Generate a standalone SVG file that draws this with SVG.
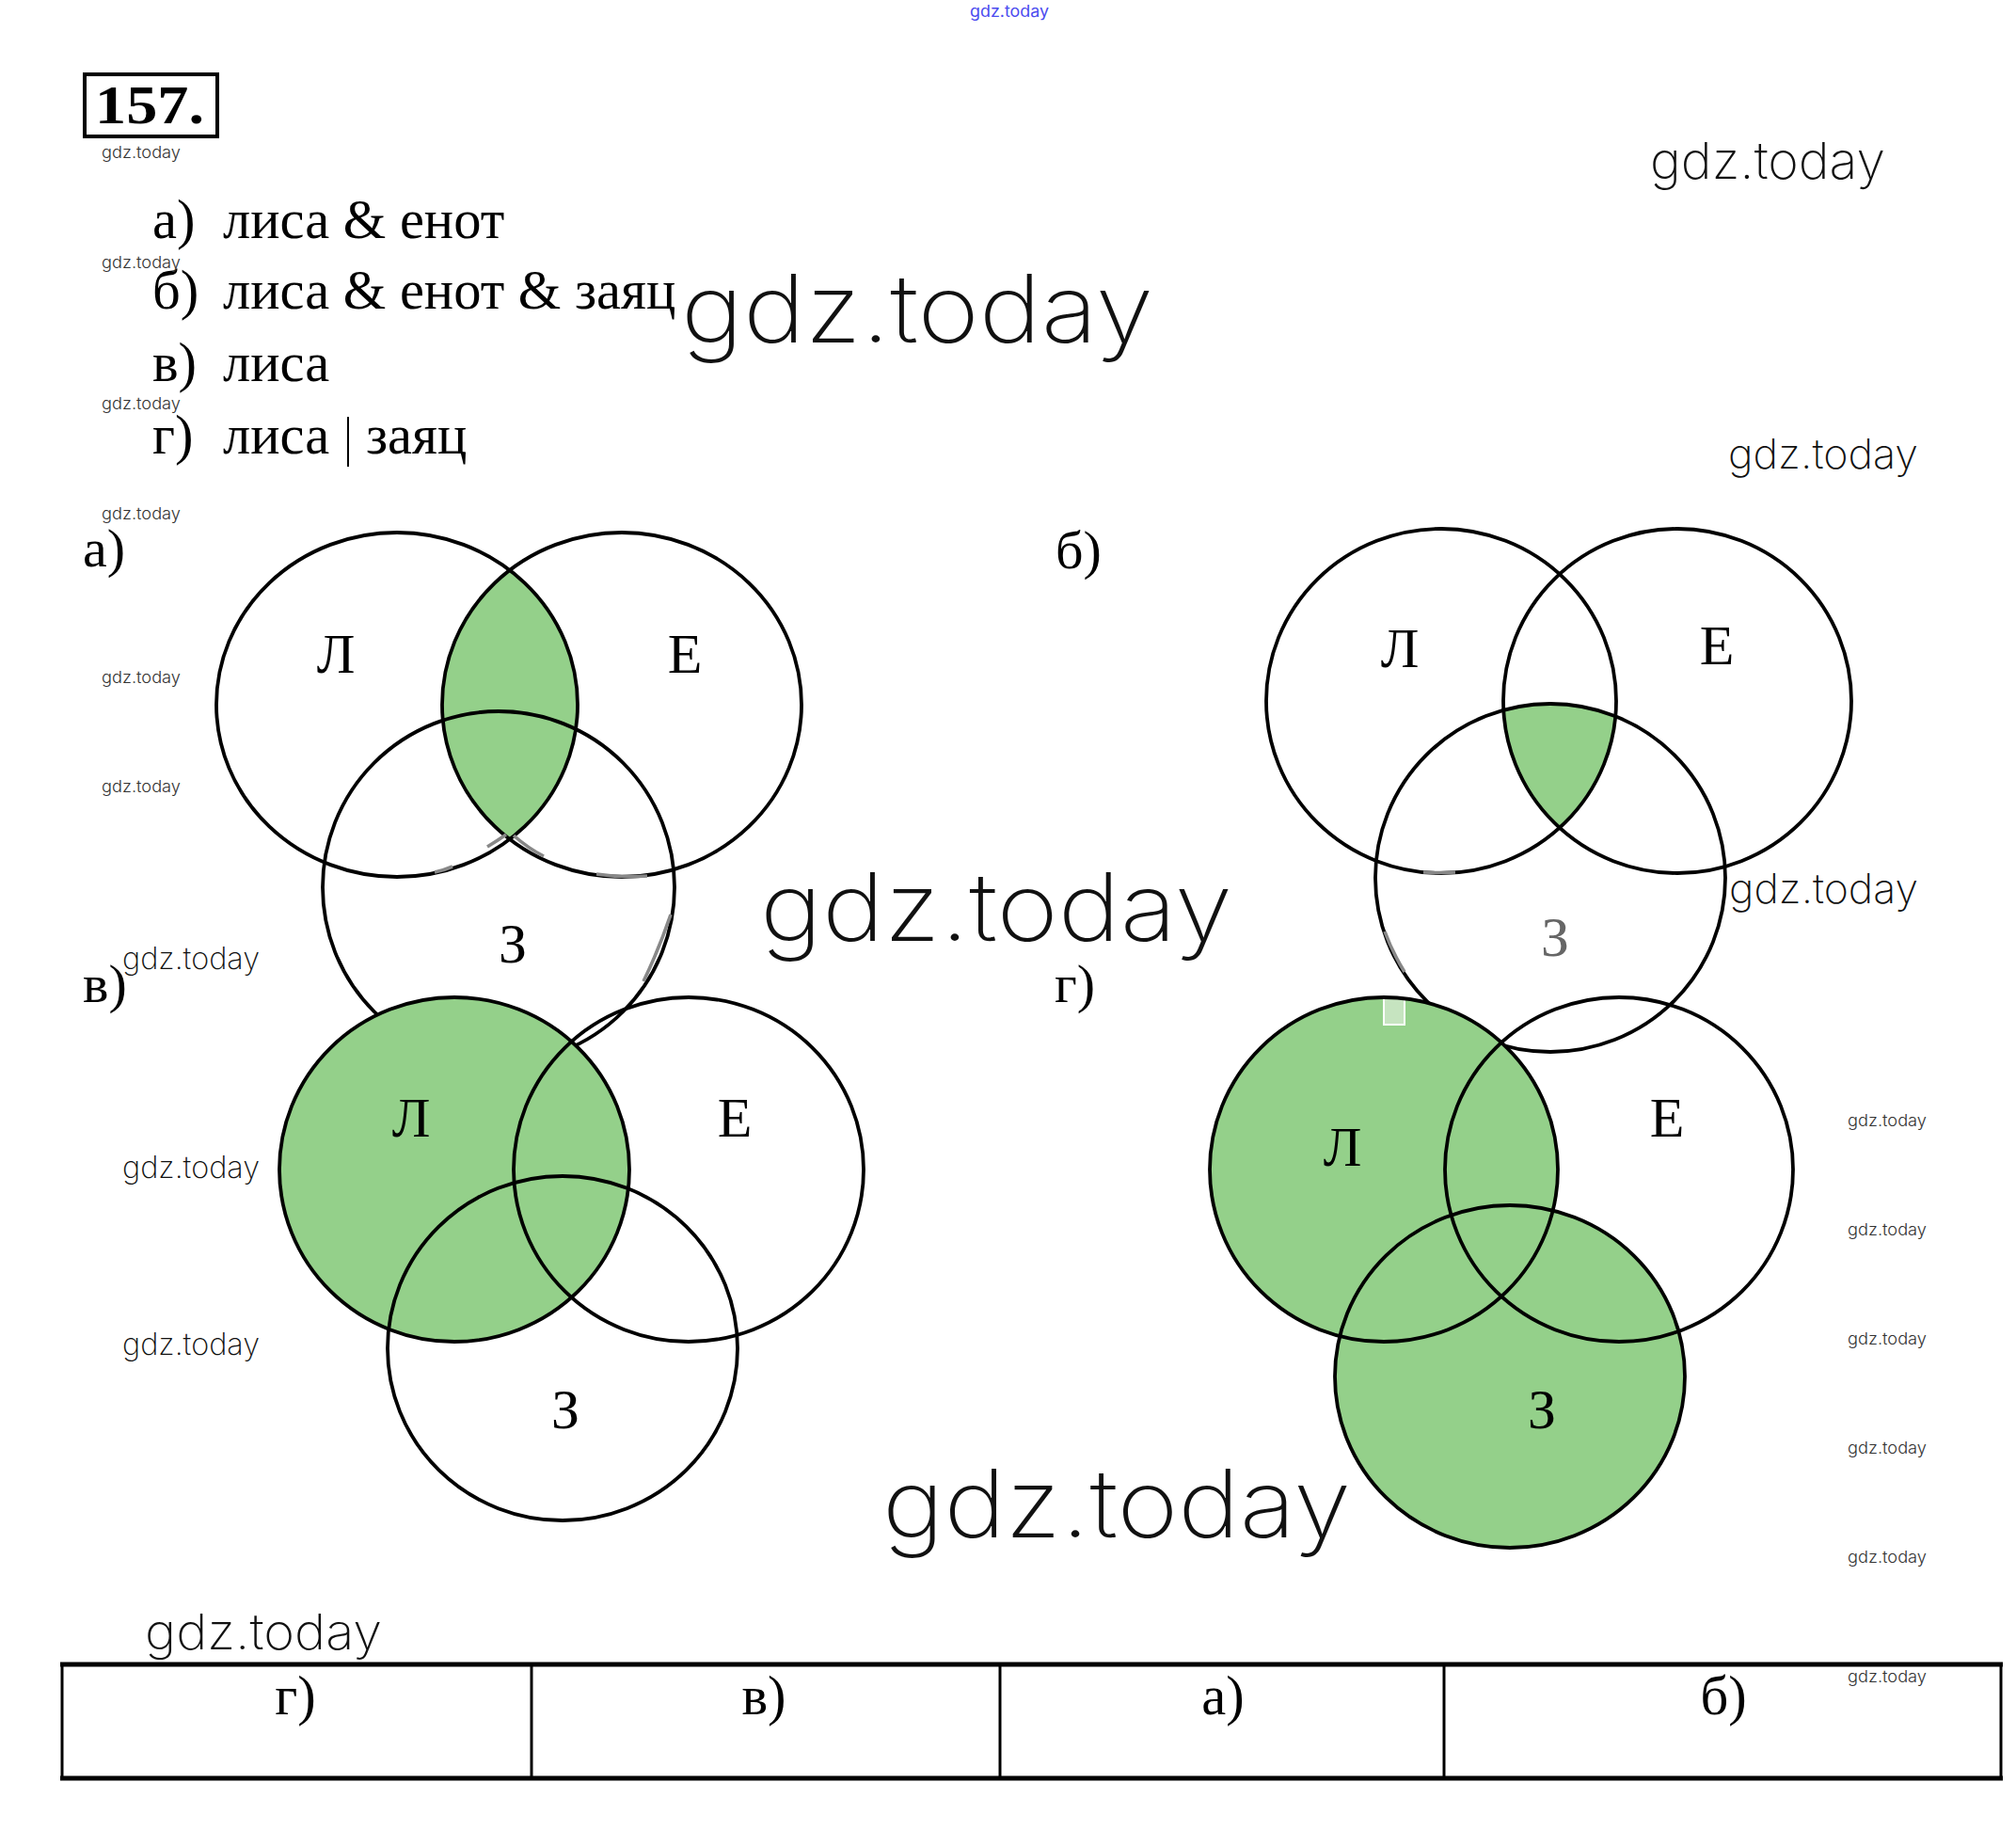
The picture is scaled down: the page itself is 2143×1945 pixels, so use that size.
<svg xmlns="http://www.w3.org/2000/svg" width="2143" height="1945" viewBox="0 0 2143 1945">
<style>
.t{font-family:"Liberation Serif","Times New Roman",serif;fill:#000}
.q{font-size:58.5px}
.lab{font-size:60px;text-anchor:middle}
.pl{font-size:58px}
.c{fill:none;stroke:#000;stroke-width:3.8}
.g{fill:#94d08a;stroke:none}
.w{font-family:"Inter","Lato","DejaVu Sans",sans-serif;font-weight:200;fill:#111}
.ws{font-family:"Inter","Lato","DejaVu Sans",sans-serif;font-weight:300;fill:#333;font-size:17px}
.art{fill:none;stroke:#888;stroke-width:3.6}
</style>
<defs>
<clipPath id="aE"><ellipse cx="661" cy="749" rx="191" ry="183"/></clipPath>
<clipPath id="bL"><ellipse cx="1532" cy="745" rx="186" ry="183"/></clipPath>
<clipPath id="bE"><ellipse cx="1783" cy="745" rx="185" ry="183"/></clipPath>
</defs>
<rect width="2143" height="1945" fill="#fff"/>

<g id="title">
<rect x="90" y="79" width="141" height="66" fill="none" stroke="#000" stroke-width="4"/>
<text class="t" x="101" y="131" font-size="58" font-weight="bold" textLength="116" lengthAdjust="spacingAndGlyphs">157.</text>
</g>

<g id="statements">
<text class="t q" y="253"><tspan x="162">а)</tspan><tspan x="237">лиса &amp; енот</tspan></text>
<text class="t q" y="328"><tspan x="162">б)</tspan><tspan x="237">лиса &amp; енот &amp; заяц</tspan></text>
<text class="t q" y="405"><tspan x="162">в)</tspan><tspan x="237">лиса</tspan></text>
<text class="t q" y="482"><tspan x="162">г)</tspan><tspan x="237">лиса</tspan><tspan x="389">заяц</tspan></text>
<line x1="370" y1="443" x2="370" y2="496" stroke="#000" stroke-width="2"/>
</g>

<g id="diagram-a">
<ellipse class="g" cx="422" cy="749" rx="192" ry="183" clip-path="url(#aE)"/>
<ellipse id="a-L" class="c" cx="422" cy="749" rx="192" ry="183"/>
<ellipse id="a-E" class="c" cx="661" cy="749" rx="191" ry="183"/>
<ellipse id="a-Z" class="c" cx="530" cy="943" rx="187" ry="187"/>
<path class="art" d="M462 927 Q472 925 481 921 M518 900 Q528 894 538 887 M546 888 Q562 902 578 910 M634 929 Q660 933 688 931 M713 972 Q700 1010 684 1043"/>
<text class="t pl" x="88" y="602">а)</text>
<text class="t lab" x="357" y="715">Л</text>
<text class="t lab" x="728" y="715">Е</text>
<text class="t lab" x="545" y="1023">З</text>
</g>

<g id="diagram-b">
<g clip-path="url(#bL)"><ellipse class="g" cx="1648" cy="933" rx="186" ry="185" clip-path="url(#bE)"/></g>
<ellipse id="b-L" class="c" cx="1532" cy="745" rx="186" ry="183"/>
<ellipse id="b-E" class="c" cx="1783" cy="745" rx="185" ry="183"/>
<ellipse id="b-Z" class="c" cx="1648" cy="933" rx="186" ry="185"/>
<path class="art" d="M1513 927 Q1530 928 1547 927 M1472 990 Q1480 1012 1493 1033"/>
<text class="t pl" x="1122" y="604">б)</text>
<text class="t lab" x="1488" y="709">Л</text>
<text class="t lab" x="1825" y="706">Е</text>
<text class="t lab" x="1653" y="1016" style="fill:#666">З</text>
</g>

<g id="diagram-v">
<ellipse class="g" cx="483" cy="1243" rx="186" ry="183"/>
<ellipse id="v-L" class="c" cx="483" cy="1243" rx="186" ry="183"/>
<ellipse id="v-E" class="c" cx="732" cy="1243" rx="186" ry="183"/>
<ellipse id="v-Z" class="c" cx="598" cy="1433" rx="186" ry="183"/>
<text class="t pl" x="88" y="1065">в)</text>
<text class="t lab" x="437" y="1208">Л</text>
<text class="t lab" x="781" y="1208">Е</text>
<text class="t lab" x="601" y="1518">З</text>
</g>

<g id="diagram-g">
<ellipse class="g" cx="1471" cy="1243" rx="185" ry="183"/>
<ellipse class="g" cx="1605" cy="1463" rx="186" ry="182"/>
<rect x="1471" y="1060" width="22" height="29" fill="#c6e4c0" stroke="#fff" stroke-width="2"/>
<ellipse id="g-L" class="c" cx="1471" cy="1243" rx="185" ry="183"/>
<ellipse id="g-E" class="c" cx="1721" cy="1243" rx="185" ry="183"/>
<ellipse id="g-Z" class="c" cx="1605" cy="1463" rx="186" ry="182"/>
<text class="t pl" x="1121" y="1065">г)</text>
<text class="t lab" x="1427" y="1239">Л</text>
<text class="t lab" x="1772" y="1208">Е</text>
<text class="t lab" x="1639" y="1518">З</text>
</g>

<g id="table">
<line x1="64" y1="1769" x2="2129" y2="1769" stroke="#000" stroke-width="5"/>
<line x1="64" y1="1890" x2="2129" y2="1890" stroke="#000" stroke-width="5"/>
<line x1="66" y1="1769" x2="66" y2="1890" stroke="#000" stroke-width="3"/>
<line x1="565" y1="1769" x2="565" y2="1890" stroke="#000" stroke-width="3"/>
<line x1="1063" y1="1769" x2="1063" y2="1890" stroke="#000" stroke-width="3"/>
<line x1="1535" y1="1769" x2="1535" y2="1890" stroke="#000" stroke-width="3"/>
<line x1="2127" y1="1769" x2="2127" y2="1890" stroke="#000" stroke-width="3"/>
<text class="t q" x="314" y="1822" text-anchor="middle">г)</text>
<text class="t q" x="812" y="1822" text-anchor="middle">в)</text>
<text class="t q" x="1300" y="1822" text-anchor="middle">а)</text>
<text class="t q" x="1832" y="1822" text-anchor="middle">б)</text>
</g>

<g id="watermarks">
<text x="1031" y="18" font-family="Inter,Lato,'DejaVu Sans',sans-serif" font-size="17" fill="#4b4bef" textLength="84" lengthAdjust="spacingAndGlyphs">gdz.today</text>
<text class="ws" x="108" y="168" textLength="84" lengthAdjust="spacingAndGlyphs">gdz.today</text>
<text class="ws" x="108" y="285" textLength="84" lengthAdjust="spacingAndGlyphs">gdz.today</text>
<text class="ws" x="108" y="435" textLength="84" lengthAdjust="spacingAndGlyphs">gdz.today</text>
<text class="ws" x="108" y="552" textLength="84" lengthAdjust="spacingAndGlyphs">gdz.today</text>
<text class="ws" x="108" y="726" textLength="84" lengthAdjust="spacingAndGlyphs">gdz.today</text>
<text class="ws" x="108" y="842" textLength="84" lengthAdjust="spacingAndGlyphs">gdz.today</text>
<text class="ws" x="1964" y="1197" textLength="84" lengthAdjust="spacingAndGlyphs">gdz.today</text>
<text class="ws" x="1964" y="1313" textLength="84" lengthAdjust="spacingAndGlyphs">gdz.today</text>
<text class="ws" x="1964" y="1429" textLength="84" lengthAdjust="spacingAndGlyphs">gdz.today</text>
<text class="ws" x="1964" y="1545" textLength="84" lengthAdjust="spacingAndGlyphs">gdz.today</text>
<text class="ws" x="1964" y="1661" textLength="84" lengthAdjust="spacingAndGlyphs">gdz.today</text>
<text class="ws" x="1964" y="1788" textLength="84" lengthAdjust="spacingAndGlyphs">gdz.today</text>
<text class="w" x="724" y="364" font-size="100" textLength="502" lengthAdjust="spacingAndGlyphs">gdz.today</text>
<text class="w" x="808" y="1000" font-size="100" textLength="502" lengthAdjust="spacingAndGlyphs">gdz.today</text>
<text class="w" x="938" y="1634" font-size="100" textLength="498" lengthAdjust="spacingAndGlyphs">gdz.today</text>
<text class="w" x="1754" y="190" font-size="54" textLength="250" lengthAdjust="spacingAndGlyphs">gdz.today</text>
<text class="w" x="1837" y="498" font-size="44" textLength="202" lengthAdjust="spacingAndGlyphs">gdz.today</text>
<text class="w" x="1838" y="960" font-size="44" textLength="201" lengthAdjust="spacingAndGlyphs">gdz.today</text>
<text class="w" x="154" y="1753" font-size="52" textLength="252" lengthAdjust="spacingAndGlyphs">gdz.today</text>
<text class="w" x="130" y="1030" font-size="32" textLength="146" lengthAdjust="spacingAndGlyphs">gdz.today</text>
<text class="w" x="130" y="1252" font-size="32" textLength="146" lengthAdjust="spacingAndGlyphs">gdz.today</text>
<text class="w" x="130" y="1440" font-size="32" textLength="146" lengthAdjust="spacingAndGlyphs">gdz.today</text>
</g>
</svg>
